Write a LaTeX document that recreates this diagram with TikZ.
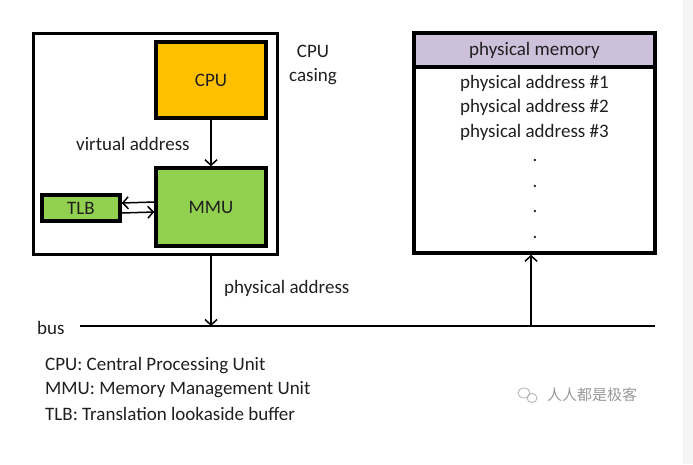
\documentclass[tikz,border=0pt]{standalone}
\usepackage{fontspec}
\setmainfont{Carlito}
\newfontfamily\cjkfont{Noto Sans CJK SC}
\usetikzlibrary{shapes,arrows.meta,calc}
\definecolor{cpuorange}{HTML}{FFC000}
\definecolor{mmugreen}{HTML}{92D050}
\definecolor{memlilac}{HTML}{CCC0DA}
\tikzstyle{line} = [draw, line width=1.5pt, -{Straight Barb[length=5.5pt,width=12pt]}]
\tikzstyle{block} = [draw, rectangle, line width=3.5pt, text centered, inner sep=0pt]
\tikzstyle{row} = [inner sep=0pt, text centered]
\tikzstyle{txt} = [inner sep=0pt, anchor=west]

\begin{document}
\begin{tikzpicture}[x=1pt, y=-1pt, node distance=24.5pt, font=\fontsize{19}{24}\selectfont, text=black!88]
        \useasboundingbox (0,0) rectangle (693,464);
        \fill[black!4] (683,0) rectangle (693,464);
        % cpu casing
        \node[block, line width=3pt, minimum width=244pt, minimum height=221pt] (casing) at (155,143.5) {};
        \node[row, align=center] (casinglbl) at (313,65) {CPU\\casing};
        \node[block, fill=cpuorange, minimum width=110pt, minimum height=76pt] (cpu) at (211,80) {CPU};
        \node[block, fill=mmugreen, minimum width=110pt, minimum height=78pt] (mmu) at (211,207) {MMU};
        \node[block, fill=mmugreen, minimum width=78pt, minimum height=26pt] (tlb) at (81,208) {TLB};
        \node[txt] (virt) at (76,144) {virtual address};
        % physical memory
        \node[block, minimum width=241pt, minimum height=220pt] (mem) at (534.5,143) {};
        \node[block, fill=memlilac, minimum width=241pt, minimum height=34pt] (memhead) at (534.5,50) {physical memory};
        \node[row] (addr1) at (534.5,83) {physical address \#1};
        \node[row, below of=addr1] (addr2) {physical address \#2};
        \node[row, below of=addr2] (addr3) {physical address \#3};
        \node[row] (dot1) at (535,160.5) {.};
        \node[row, below of=dot1, node distance=25.7pt] (dot2) {.};
        \node[row, below of=dot2, node distance=25.7pt] (dot3) {.};
        \node[row, below of=dot3, node distance=25.7pt] (dot4) {.};
        % bus
        \node[txt] (buslbl) at (37,328) {bus};
        \coordinate (busL) at (80,326);
        \coordinate (busR) at (655,326);
        \coordinate (memin) at (531,326);
        \draw[line width=1.8pt] (busL) -- (busR);
        \node[txt] (physlbl) at (224,288) {physical address};
        % legend
        \node[txt] (leg1) at (45,366) {CPU: Central Processing Unit};
        \node[txt] (leg2) at (45,390) {MMU: Memory Management Unit};
        \node[txt] (leg3) at (45,414) {TLB: Translation lookaside buffer};
        % watermark
        \draw[black!30, line width=0.8pt] (524,393) ellipse (6pt and 5pt);
        \draw[black!30, line width=0.8pt] (532,398) ellipse (5pt and 4.5pt);
        \node[txt, text=black!40] (wm) at (547,395) {\cjkfont\fontsize{15}{18}\selectfont 人人都是极客};
        % connectors
        \path[line] (cpu) -- (mmu);
        \path[line] ([yshift=5pt]mmu.west) -- ([yshift=5pt]tlb.east);
        \path[line] ([yshift=-5pt]tlb.east) -- ([yshift=-5pt]mmu.west);
        \path[line] (casing.south -| mmu) -- (mmu |- busL);
        \path[line] (memin) -- (memin |- mem.south);
    \end{tikzpicture}
\end{document}
